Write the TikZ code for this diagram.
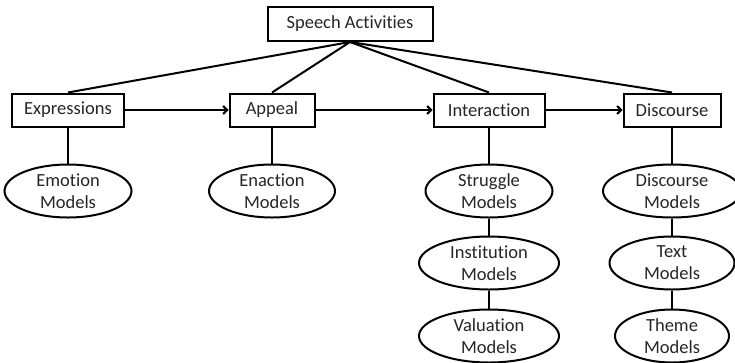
\documentclass[tikz,border=0pt]{standalone}
\usepackage{fontspec}
\setmainfont[Ligatures={NoCommon}]{Carlito}
\usetikzlibrary{shapes.geometric,arrows.meta}
\begin{document}
\begin{tikzpicture}[x=1pt,y=-1pt,
  every node/.style={font=\fontsize{18.5pt}{22pt}\selectfont, text=black!85, align=center, inner sep=0pt},
  cat/.style={draw, line width=2pt, minimum height=33pt, fill=white},
  model/.style={draw, ellipse, line width=2pt, minimum height=53pt, fill=white},
  link/.style={line width=2pt},
  flow/.style={line width=2pt, -{Straight Barb[length=4pt,width=8pt,line width=2pt]}}
]
\useasboundingbox (0,0) rectangle (735,362);
\node[cat, minimum width=165pt, minimum height=34pt] (sa) at (350,24) {Speech Activities};
\node[cat, minimum width=112pt] (ex) at (68,110) {Expressions};
\node[cat, minimum width=85pt] (ap) at (272,110) {Appeal};
\node[cat, minimum width=111pt] (in) at (489,110) {Interaction};
\node[cat, minimum width=97pt] (di) at (672,110) {Discourse};

\node[model, minimum width=127pt] (em) at (68,191) {Emotion\\Models};
\node[model, minimum width=126pt] (en) at (272,191) {Enaction\\Models};
\node[model, minimum width=127pt] (st) at (489,191) {Struggle\\Models};
\node[model, minimum width=140pt] (it) at (489,263) {Institution\\Models};
\node[model, minimum width=140pt] (va) at (489,336) {Valuation\\Models};
\node[model, minimum width=138pt] (dm) at (672,191) {Discourse\\Models};
\node[model, minimum width=125pt] (tx) at (672,263) {Text\\Models};
\node[model, minimum width=114pt] (th) at (672,336) {Theme\\Models};

\draw[link] (sa.south) -- (ex.north);
\draw[link] (sa.south) -- (ap.north);
\draw[link] (sa.south) -- (in.north);
\draw[link] (sa.south) -- (di.north);

\draw[flow] (ex.east) -- (ap.west);
\draw[flow] (ap.east) -- (in.west);
\draw[flow] (in.east) -- (di.west);

\draw[link] (ex.south) -- (em.north);
\draw[link] (ap.south) -- (en.north);
\draw[link] (in.south) -- (st.north);
\draw[link] (st.south) -- (it.north);
\draw[link] (it.south) -- (va.north);
\draw[link] (di.south) -- (dm.north);
\draw[link] (dm.south) -- (tx.north);
\draw[link] (tx.south) -- (th.north);
\end{tikzpicture}
\end{document}
